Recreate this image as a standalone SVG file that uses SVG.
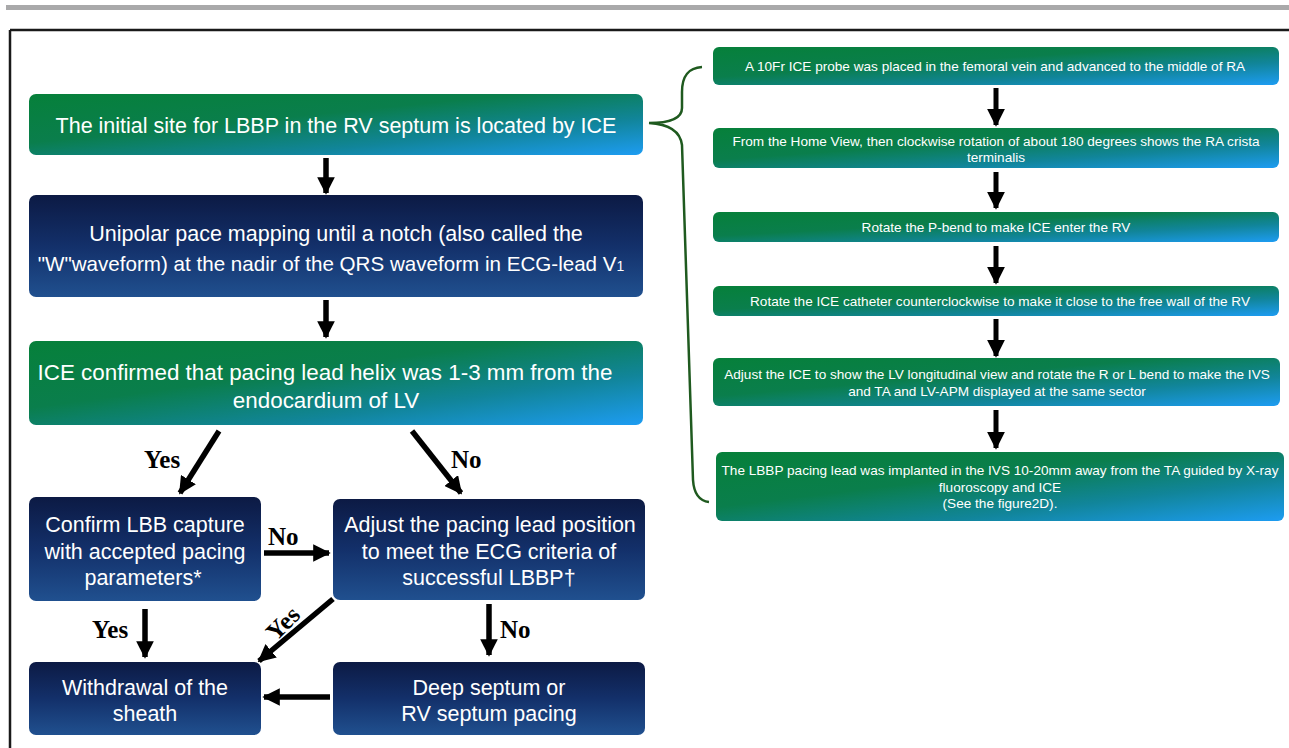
<svg xmlns="http://www.w3.org/2000/svg" width="1289" height="748" viewBox="0 0 1289 748">
<defs>
<linearGradient id="gGreen" x1="0" y1="0" x2="1" y2="1">
<stop offset="0" stop-color="#06803a"/>
<stop offset="0.4" stop-color="#0a7e4c"/>
<stop offset="0.7" stop-color="#11859a"/>
<stop offset="1" stop-color="#1d9cf2"/>
</linearGradient>
<linearGradient id="gNavy" x1="0" y1="0" x2="0" y2="1">
<stop offset="0" stop-color="#0c1a44"/>
<stop offset="0.5" stop-color="#13306a"/>
<stop offset="1" stop-color="#20508f"/>
</linearGradient>
<marker id="ah" viewBox="0 0 10 10" refX="9" refY="5" markerWidth="3.2" markerHeight="3.2" orient="auto" markerUnits="strokeWidth">
<path d="M0,0 L10,5 L0,10 Z" fill="#000"/>
</marker>
<marker id="ahs" viewBox="0 0 10 10" refX="9" refY="5" markerWidth="3.6" markerHeight="3.6" orient="auto" markerUnits="strokeWidth">
<path d="M0,0 L10,5 L0,10 Z" fill="#000"/>
</marker>
</defs>
<style>
.g{fill:url(#gGreen)}
.n{fill:url(#gNavy)}
.t{font-family:"Liberation Sans",Arial,sans-serif;fill:#fff;text-anchor:middle}
.m{font-size:21.5px}
.s{font-size:13.6px}
.lbl{font-family:"Liberation Serif","Times New Roman",serif;font-weight:bold;font-size:25px;fill:#000}
.a{stroke:#000;stroke-width:5.5;fill:none;marker-end:url(#ah)}
.ar{stroke:#000;stroke-width:5;fill:none;marker-end:url(#ahs)}
</style>
<rect width="1289" height="748" fill="#fff"/>
<rect x="6" y="5" width="1283" height="5" fill="#a9a9aa"/>
<path d="M10,30 H1289 M10,30 V748" stroke="#1a1a1a" stroke-width="2.5" fill="none"/>

<g id="n1"><rect class="g" x="29" y="94" width="614" height="61" rx="7"/>
<text class="t m" x="336" y="133">The initial site for LBBP in the RV septum is located by ICE</text></g>
<g id="n2"><rect class="n" x="29" y="195" width="614" height="102" rx="7"/>
<text class="t m" x="336" y="241">Unipolar pace mapping until a notch (also called the</text>
<text class="t m" x="331" y="271" style="font-size:20.6px">"W"waveform) at the nadir of the QRS waveform in ECG-lead V<tspan font-size="14">1</tspan></text></g>
<g id="n3"><rect class="g" x="29" y="341" width="614" height="84" rx="7"/>
<text class="t m" x="325" y="380" style="font-size:22.4px">ICE confirmed that pacing lead helix was 1-3 mm from the</text>
<text class="t m" x="326" y="408" style="font-size:22.4px">endocardium of LV</text></g>
<g id="n4"><rect class="n" x="29" y="497" width="232" height="104" rx="7"/>
<text class="t m" x="145" y="532">Confirm LBB capture</text>
<text class="t m" x="145" y="559">with accepted pacing</text>
<text class="t m" x="143" y="585">parameters*</text></g>
<g id="n5"><rect class="n" x="333" y="499" width="312" height="101" rx="7"/>
<text class="t m" x="490" y="532">Adjust the pacing lead position</text>
<text class="t m" x="489" y="559">to meet the ECG criteria of</text>
<text class="t m" x="489" y="585">successful LBBP†</text></g>
<g id="n6"><rect class="n" x="29" y="662" width="232" height="73" rx="7"/>
<text class="t m" x="145" y="695">Withdrawal of the</text>
<text class="t m" x="145" y="721">sheath</text></g>
<g id="n7"><rect class="n" x="333" y="662" width="312" height="73" rx="7"/>
<text class="t m" x="489" y="695">Deep septum or</text>
<text class="t m" x="489" y="721">RV septum pacing</text></g>

<g id="r1"><rect class="g" x="713" y="47" width="566" height="38" rx="6"/>
<text class="t s" x="995" y="71">A 10Fr ICE probe was placed in the femoral vein and advanced to the middle of RA</text></g>
<g id="r2"><rect class="g" x="713" y="128" width="566" height="40" rx="6"/>
<text class="t s" x="996" y="146">From the Home View, then clockwise rotation of about 180 degrees shows the RA crista</text>
<text class="t s" x="996" y="162">terminalis</text></g>
<g id="r3"><rect class="g" x="713" y="212" width="566" height="30" rx="6"/>
<text class="t s" x="996" y="232">Rotate the P-bend to make ICE enter the RV</text></g>
<g id="r4"><rect class="g" x="713" y="286" width="566" height="30" rx="6"/>
<text class="t s" x="1000" y="306">Rotate the ICE catheter counterclockwise to make it close to the free wall of the RV</text></g>
<g id="r5"><rect class="g" x="713" y="358" width="567" height="48" rx="6"/>
<text class="t s" x="997" y="379">Adjust the ICE to show the LV longitudinal view and rotate the R or L bend to make the IVS</text>
<text class="t s" x="997" y="396">and TA and LV-APM displayed at the same sector</text></g>
<g id="r6"><rect class="g" x="716" y="452" width="568" height="69" rx="6"/>
<text class="t s" x="1000" y="475">The LBBP pacing lead was implanted in the IVS 10-20mm away from the TA guided by X-ray</text>
<text class="t s" x="1000" y="492">fluoroscopy and ICE</text>
<text class="t s" x="1000" y="508">(See the figure2D).</text></g>

<g id="brace"><path d="M702,67 C688,68 682,76 682,92 L682,108 C682,118 670,123 649,123 C668,124 680,130 682,145 L693,480 C694,495 700,501 709,502" stroke="#1f5a1f" stroke-width="2.5" fill="none"/></g>

<g id="connectors">
<line class="a" x1="326" y1="158" x2="326" y2="193"/>
<line class="a" x1="326" y1="300" x2="326" y2="337"/>
<line class="a" x1="219" y1="431" x2="180" y2="493"/>
<line class="a" x1="412" y1="431" x2="461" y2="493"/>
<line class="a" x1="264" y1="553" x2="329" y2="553"/>
<line class="a" x1="145" y1="609" x2="145" y2="657"/>
<line class="a" x1="333" y1="599" x2="259" y2="661"/>
<line class="a" x1="489" y1="604" x2="489" y2="655"/>
<line class="a" x1="330" y1="697" x2="264" y2="697"/>
<line class="ar" x1="996" y1="88" x2="996" y2="125"/>
<line class="ar" x1="996" y1="172" x2="996" y2="208"/>
<line class="ar" x1="996" y1="246" x2="996" y2="283"/>
<line class="ar" x1="996" y1="319" x2="996" y2="356"/>
<line class="ar" x1="996" y1="410" x2="996" y2="448"/>
</g>
<g id="labels">
<text class="lbl" x="144" y="468">Yes</text>
<text class="lbl" x="451" y="468">No</text>
<text class="lbl" x="268" y="545">No</text>
<text class="lbl" x="92" y="638">Yes</text>
<text class="lbl" x="500" y="638">No</text>
<text class="lbl" transform="translate(276,642) rotate(-45)">Yes</text>
</g>
</svg>
